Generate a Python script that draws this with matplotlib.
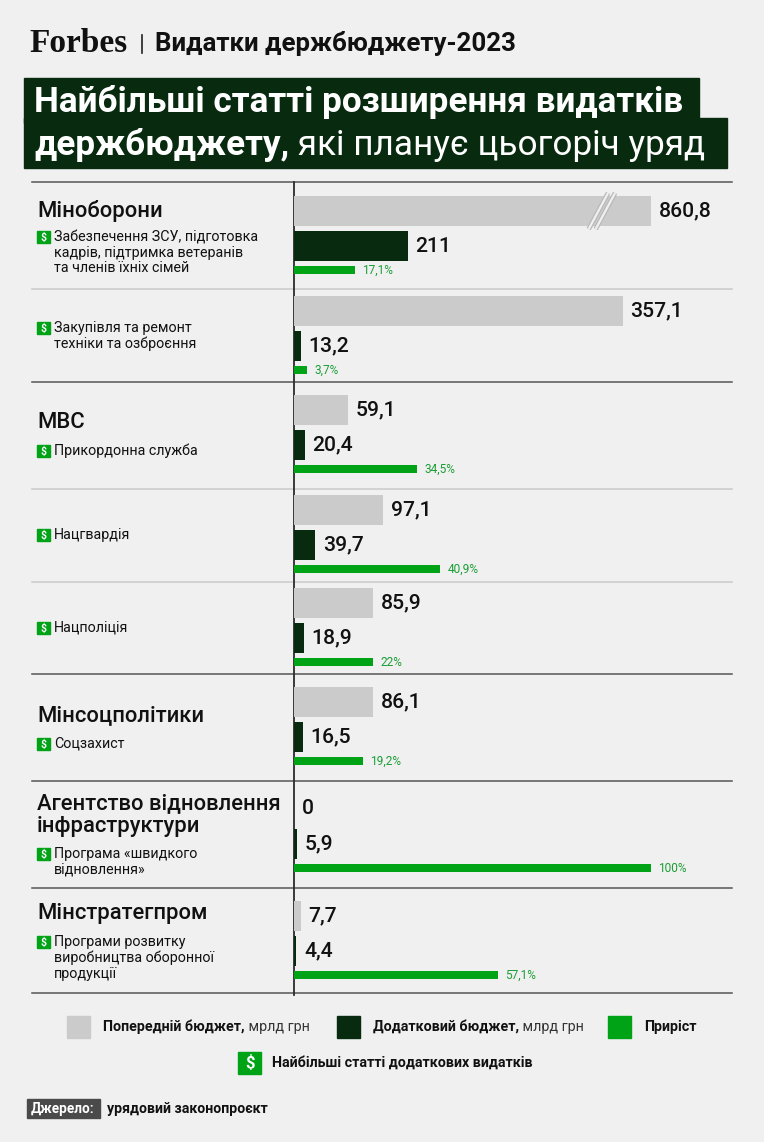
import matplotlib
matplotlib.use("Agg")
import matplotlib.pyplot as plt
import matplotlib.patheffects as pe
from matplotlib.patches import Rectangle

# --- data -------------------------------------------------------------
GROUPS = ["Міноборони", "", "МВС", "", "", "Мінсоцполітики",
          "Агентство відновлення\nінфраструктури", "Мінстратегпром"]
ITEMS = [
    "Забезпечення ЗСУ, підготовка\nкадрів, підтримка ветеранів\nта членів їхніх сімей",
    "Закупівля та ремонт\nтехніки та озброєння",
    "Прикордонна служба",
    "Нацгвардія",
    "Нацполіція",
    "Соцзахист",
    "Програма «швидкого\nвідновлення»",
    "Програми розвитку\nвиробництва оборонної\nпродукції",
]
PREV = [860.8, 357.1, 59.1, 97.1, 85.9, 86.1, 0, 7.7]      # млрд грн
EXTRA = [211, 13.2, 20.4, 39.7, 18.9, 16.5, 5.9, 4.4]      # млрд грн
GROWTH = [17.1, 3.7, 34.5, 40.9, 22, 19.2, 100, 57.1]      # %

PREV_CAP = 388          # longest grey bar is drawn broken at this value

# --- layout (pixels, figure is 764 x 1142) ----------------------------
W, H = 764, 1142
AX_X = 294
ROW_TOP = [196, 296, 395, 495, 588, 687, 794, 901]
GROUP_Y = [211, None, 423, None, None, 716, 815, 914]
ITEM_Y = [237, 328, 451, 535, 628, 744, 854, 942]
SEP_Y = [182, 289, 382, 489, 582, 674, 781, 888, 993]
SEP_DARK = [True, False, True, False, False, True, True, True, True]

BG = "#f0f0f0"
GREY = "#cbcbcb"
DARK = "#082b10"
GREEN = "#00a316"
PCT = "#1a9e35"

plt.rcParams["font.family"] = ["Roboto", "DejaVu Sans"]

fig = plt.figure(figsize=(W / 100, H / 100), dpi=100)
fig.patch.set_facecolor(BG)

bg = fig.add_axes([0, 0, 1, 1])
bg.set_xlim(0, W)
bg.set_ylim(H, 0)
bg.axis("off")


def fmt(v):
    s = f"{v:g}" if float(v).is_integer() else f"{v:.1f}"
    return s.replace(".", ",")


def dollar(x, y, size=13, h=12):
    bg.add_patch(Rectangle((x, y - h / 2), size, h, color=GREEN, zorder=3))
    bg.text(x + size / 2, y + 0.5, "$", color="white", fontsize=7.5,
            fontweight="bold", ha="center", va="center", zorder=4)


# header
bg.text(29, 43, "Forbes", family=["Liberation Serif", "DejaVu Serif"],
        fontsize=24, fontweight="bold", va="center", color="#111")
bg.plot([142, 142], [35, 53], color="#222", lw=1.2)
bg.text(155, 44, "Видатки держбюджету-2023", fontsize=18.6, fontweight="bold",
        va="center", color="#111")

# title boxes
bg.add_patch(Rectangle((24, 78), 675, 45, color=DARK))
bg.add_patch(Rectangle((24, 118), 703, 50, color=DARK))
bg.text(34, 102, "Найбільші статті розширення видатків", color="white",
        fontsize=25.3, fontweight="bold", va="center")
t = bg.text(34, 145, "держбюджету,", color="white", fontsize=25.3,
            fontweight="bold", va="center")
bg.annotate(" які планує цьогоріч уряд", xy=(1, 0), xycoords=t,
            va="bottom", color="white", fontsize=25.3)

# separators and axis line
for y, dark in zip(SEP_Y, SEP_DARK):
    bg.plot([32, 732], [y, y], color="#555" if dark else "#c9c9c9",
            lw=1.1, zorder=1)
bg.plot([AX_X - 0.5, AX_X - 0.5], [182, 995], color="#2b2b2b", lw=1.3,
        zorder=5)

# left labels
for g, gy, it, iy in zip(GROUPS, GROUP_Y, ITEMS, ITEM_Y):
    if g:
        bg.text(37, gy, g, fontsize=15.8, fontweight="medium", va="center",
                color="#111", linespacing=1.1)
    dollar(37, iy)
    bg.text(54, iy - 7, it, fontsize=10.3, va="top", color="#111",
            linespacing=1.15)

# bar axes, one scale per series
box = [AX_X / W, 0, (W - AX_X) / W, 1]
span = W - AX_X


def bar_axes(px_per_unit):
    a = fig.add_axes(box)
    a.set_xlim(0, span / px_per_unit)
    a.set_ylim(H, 0)
    a.axis("off")
    a.patch.set_alpha(0)
    return a


ax_prev = bar_axes(0.921)
ax_extra = bar_axes(0.54)
ax_grow = bar_axes(3.57)

off = dict(textcoords="offset points", xytext=(5.4, 0), va="center")

for top, p, e, g in zip(ROW_TOP, PREV, EXTRA, GROWTH):
    shown = min(p, PREV_CAP)
    ax_prev.barh(top + 15, shown, height=30, color=GREY, align="center")
    ax_prev.annotate(fmt(p), (shown, top + 15), fontsize=15.2,
                     fontweight="medium", color="#111", **off)
    if p > PREV_CAP:
        for x0 in (320, 327.6):
            ax_prev.plot([x0, x0 + 21], [top + 33, top - 3], color=BG,
                         lw=1.6, solid_capstyle="butt",
                         path_effects=[pe.Stroke(linewidth=3.4,
                                                 foreground="#b9b9b9"),
                                       pe.Normal()])

    ax_extra.barh(top + 50, e, height=30, color=DARK, align="center")
    ax_extra.annotate(fmt(e), (e, top + 50), fontsize=15.2,
                      fontweight="medium", color="#111", **off)

    ax_grow.barh(top + 74, g, height=8, color=GREEN, align="center")
    ax_grow.annotate(fmt(g) + "%", (g, top + 74), fontsize=8.6, color=PCT,
                     **off)

# legend
legend = [(67, GREY, "Попередній бюджет,", " мрлд грн"),
          (337, DARK, "Додатковий бюджет,", " млрд грн"),
          (608, GREEN, "Приріст", "")]
for x, c, b, r in legend:
    bg.add_patch(Rectangle((x, 1016), 23, 22, color=c))
    tb = bg.text(x + 36, 1027, b, fontsize=10.3, fontweight="bold",
                 va="center", color="#111")
    if r:
        bg.annotate(r, xy=(1, 0), xycoords=tb, va="bottom", fontsize=10.3,
                    color="#333")
bg.add_patch(Rectangle((238, 1052), 23, 22, color=GREEN))
bg.text(249.5, 1063.5, "$", color="white", fontsize=12, fontweight="bold",
        ha="center", va="center")
bg.text(272, 1063, "Найбільші статті додаткових видатків", fontsize=10.3,
        fontweight="bold", va="center", color="#111")

# source
bg.add_patch(Rectangle((27, 1099), 73, 19, color="#4a4a4a"))
bg.text(31, 1108.5, "Джерело:", color="white", fontsize=9.8,
        fontweight="bold", va="center")
bg.text(107, 1108.5, "урядовий законопроєкт", color="#111", fontsize=10.2,
        fontweight="bold", va="center")

fig.savefig("out.png", dpi=100, facecolor=BG)
